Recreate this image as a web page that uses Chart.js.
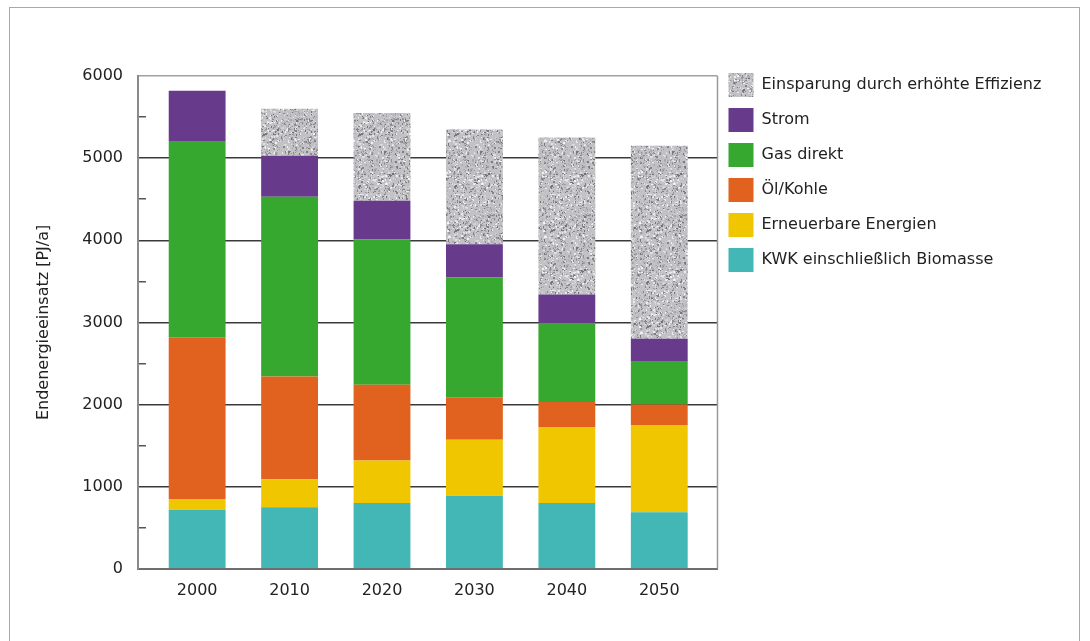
<!DOCTYPE html>
<html>
<head>
<meta charset="utf-8">
<script src="https://cdn.jsdelivr.net/npm/chart.js@4/dist/chart.umd.min.js"></script>
<style>
  html, body { margin: 0; padding: 0; background: #fff; }
  #wrap { position: relative; width: 1090px; height: 641px; overflow: hidden; }
  #rahmen { position: absolute; left: 9px; top: 7px; width: 1071px; height: 660px; border: 1px solid #a9a9a9; box-sizing: border-box; }
  canvas { position: absolute; left: 0; top: 0; }
</style>
</head>
<body>
<div id="wrap">
  <div id="rahmen"></div>
  <canvas id="grafik" width="1090" height="641"></canvas>
</div>
<script>
// --- DATEN ---
const jahre = ['2000', '2010', '2020', '2030', '2040', '2050'];
const kwk = [720, 750, 800, 890, 800, 690];
const erneuerbar = [130, 340, 520, 680, 920, 1060];
const oelKohle = [1970, 1250, 920, 520, 310, 250];
const gasDirekt = [2380, 2190, 1770, 1460, 960, 520];
const strom = [620, 500, 470, 400, 350, 280];
const einsparung = [0, 570, 1070, 1400, 1910, 2350];
const yBeschriftung = [0, 1000, 2000, 3000, 4000, 5000, 6000];

// --- GRAUES RAUSCHMUSTER FUER "EINSPARUNG" ---
function rauschMuster() {
    const c = document.createElement('canvas');
    c.width = 96; c.height = 96;
    const g = c.getContext('2d');
    g.fillStyle = '#c2c2c4';
    g.fillRect(0, 0, 96, 96);
    let s = 4711;
    const zufall = () => { s = (s * 1103515245 + 12345) & 0x7fffffff; return (s >> 8) / 8388608; };
    for (let i = 0; i < 2600; i++) {
        const x = Math.floor(zufall() * 96), y = Math.floor(zufall() * 96);
        const v = Math.floor(115 + zufall() * 130);
        g.fillStyle = 'rgb(' + v + ',' + v + ',' + (v + 4) + ')';
        g.fillRect(x, y, zufall() < 0.4 ? 2 : 1, zufall() < 0.4 ? 2 : 1);
    }
    return g.createPattern(c, 'repeat');
}

const schrift = "'DejaVu Sans', sans-serif";
const punkte = arr => arr.map((v, i) => ({ x: i, y: v }));

// rechter Rahmen der Zeichenflaeche
const rahmenPlugin = {
    id: 'rahmen',
    beforeDatasetsDraw(chart) {
        const a = chart.chartArea, ctx = chart.ctx;
        ctx.save();
        ctx.strokeStyle = '#9a9a9a';
        ctx.lineWidth = 1.5;
        ctx.beginPath();
        ctx.moveTo(a.right, a.top);
        ctx.lineTo(a.right, a.bottom);
        ctx.stroke();
        ctx.restore();
    }
};

// Legende etwas hoeher setzen und breiter machen (sonst abgeschnitten)
const legendeAnpassen = {
    id: 'legendeAnpassen',
    afterLayout(chart) {
        const l = chart.legend;
        l.top -= 14;
        l.bottom -= 14;
        l.width = 360;
        l.right = l.left + 360;
    }
};

new Chart(document.getElementById('grafik'), {
    type: 'bar',
    data: {
        datasets: [
            { label: 'KWK einschließlich Biomasse', data: punkte(kwk), backgroundColor: '#43b7b5' },
            { label: 'Erneuerbare Energien', data: punkte(erneuerbar), backgroundColor: '#f0c600' },
            { label: 'Öl/Kohle', data: punkte(oelKohle), backgroundColor: '#e1621f' },
            { label: 'Gas direkt', data: punkte(gasDirekt), backgroundColor: '#36a72f' },
            { label: 'Strom', data: punkte(strom), backgroundColor: '#673a8c' },
            { label: 'Einsparung durch erhöhte Effizienz', data: punkte(einsparung), backgroundColor: rauschMuster() }
        ]
    },
    options: {
        responsive: false,
        devicePixelRatio: 1,
        animation: false,
        categoryPercentage: 1,
        barPercentage: 0.615,
        layout: { padding: { left: 20, top: 76, right: 140, bottom: 29 } },
        plugins: {
            tooltip: { enabled: false },
            legend: {
                position: 'right',
                align: 'start',
                reverse: true,
                labels: {
                    boxWidth: 25,
                    boxHeight: 24,
                    padding: 11,
                    color: '#222',
                    font: { family: schrift, size: 16 }
                }
            }
        },
        scales: {
            x: {
                type: 'linear',
                stacked: true,
                offset: false,
                min: -0.64,
                max: 5.63,
                grid: { drawOnChartArea: false, drawTicks: false, offset: false },
                border: { color: '#6e6e6e', width: 2 },
                ticks: {
                    stepSize: 1,
                    includeBounds: false,
                    autoSkip: false,
                    padding: 12,
                    color: '#222',
                    font: { family: schrift, size: 16 },
                    callback: v => (Number.isInteger(v) && jahre[v]) ? jahre[v] : ''
                }
            },
            y: {
                stacked: true,
                min: 0,
                max: 6000,
                z: 1,
                border: { color: '#8a8a8a', width: 2 },
                grid: {
                    color: c => {
                        const v = c.tick.value;
                        if (v === 6000) return '#a0a0a0';
                        if (v === 0) return 'transparent';
                        return yBeschriftung.includes(v) ? '#3a3a3a' : 'transparent';
                    },
                    lineWidth: 1.5,
                    tickColor: c => yBeschriftung.includes(c.tick.value) ? 'transparent' : '#555',
                    tickLength: -8,
                    tickWidth: 1.5
                },
                ticks: {
                    stepSize: 500,
                    padding: 23,
                    color: '#222',
                    font: { family: schrift, size: 16 },
                    callback: v => yBeschriftung.includes(v) ? String(v) : ''
                },
                title: {
                    display: true,
                    text: 'Endenergieeinsatz [PJ/a]',
                    color: '#222',
                    padding: 14,
                    font: { family: schrift, size: 16 }
                },
                afterFit: s => { s.width = 118; }
            }
        }
    },
    plugins: [rahmenPlugin, legendeAnpassen]
});
</script>
</body>
</html>
